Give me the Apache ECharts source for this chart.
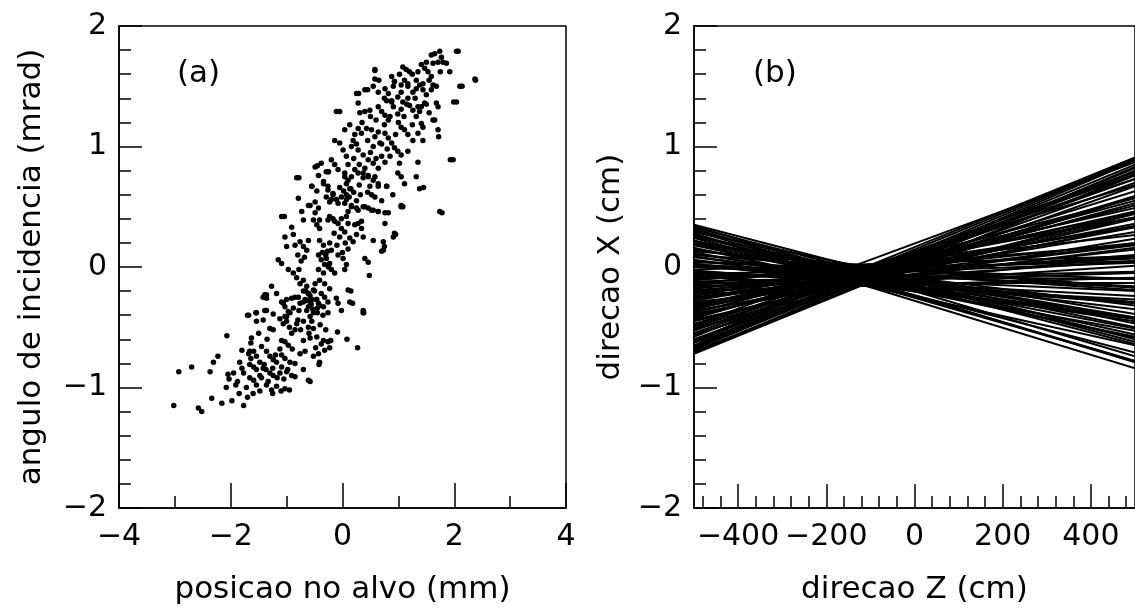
<!DOCTYPE html>
<html><head><meta charset="utf-8">
<script src="https://cdn.jsdelivr.net/npm/echarts@6/dist/echarts.min.js"></script>
<style>html,body{margin:0;padding:0;background:#fff}#c{width:1135px;height:612px}</style>
</head><body><div id="c"></div>
<script>
// ---- Panel (a): scatter, posicao no alvo (mm) vs angulo de incidencia (mrad)
const scatterX = [
-3.02,-2.93,-2.70,-2.58,-2.52,-2.37,-2.31,-2.23,-2.07,-2.34,-2.16,-1.98,-1.77,-1.70,-2.08,-2.03,-1.91,-2.05,-1.84,-1.80,
-1.66,-1.59,-1.64,-1.63,-1.70,-1.55,-1.54,-1.42,-1.36,-1.24,-1.42,-1.36,-1.80,-1.77,-1.66,-1.59,-1.54,-1.48,-1.36,-1.27,
-1.18,-1.03,-0.95,-1.42,-1.37,-1.30,-1.24,-1.17,-1.54,-1.48,-1.40,-1.36,-1.30,-1.24,-1.18,-1.09,-1.00,-0.91,-0.85,-0.70,
-0.61,-1.09,-1.03,-0.94,-0.76,-0.67,-0.52,-0.43,-0.41,-0.42,-0.32,-0.23,-1.30,-1.24,-1.09,-1.03,-0.97,-0.91,-0.85,-0.82,
-1.06,-1.00,-0.94,-0.88,-0.70,-0.58,-0.46,-0.34,-0.26,-0.70,-0.61,-0.52,-0.76,-0.67,-0.64,-0.58,-0.46,-0.41,-0.32,-0.26,
-1.06,-1.00,-0.91,-0.70,-0.61,-0.52,-1.68,-1.64,-1.66,-1.59,-1.54,-1.48,
-0.82,-0.55,-0.43,-0.26,-0.34,-0.26,-0.17,-0.20,-0.08,-0.29,-0.23,0.04,0.07,0.13,0.07,0.04,0.10,0.07,0.28,0.37,
0.46,0.58,0.49,0.52,0.64,0.79,0.99,1.05,-0.79,-0.58,-0.49,-0.43,-0.73,-0.70,-1.09,-0.52,-0.46,-0.41,-0.26,-0.17,
-0.08,-0.02,0.04,0.16,0.28,0.40,0.52,0.64,0.76,0.28,0.34,0.25,0.37,0.55,0.73,0.76,0.93,0.91,0.73,0.70,
-0.91,-0.88,-0.76,-0.70,-0.64,-0.61,-1.03,-1.00,-1.15,-1.09,-0.41,-0.34,-0.23,-0.20,-0.43,-0.38,-0.29,-0.23,-0.08,0.01,
0.07,0.04,0.13,0.19,0.40,0.46,0.10,0.13,0.37,0.37,-0.97,-0.88,-0.82,-0.76,-0.70,-0.64,-0.61,-0.55,-0.49,-0.41,
-0.32,-0.23,-0.43,-0.34,-0.20,-0.14,-1.27,-1.18,-1.39,-1.36,-1.09,-1.03,-0.97,-0.79,-0.70,-0.61,-0.52,-0.43,-0.34,-0.26,
-0.11,-0.08,-0.02,-1.68,-1.54,-1.39,-1.12,-1.03,
0.25,0.40,0.55,0.64,0.76,0.93,1.05,1.17,1.32,1.44,1.62,1.68,1.71,1.99,2.10,-0.11,0.28,0.31,0.40,0.49,
0.64,0.70,0.76,0.82,0.88,0.91,0.99,1.05,1.17,1.20,1.26,1.32,1.35,1.38,1.41,1.44,1.62,1.71,1.72,0.04,
0.13,0.22,0.28,0.34,0.43,0.52,0.58,0.64,0.67,0.76,0.82,0.88,0.93,1.05,1.11,1.17,1.26,1.35,1.44,-0.14,
-0.05,0.01,0.07,0.16,0.19,0.28,0.37,0.46,0.55,0.64,0.70,0.76,0.85,0.99,1.05,1.17,1.02,1.35,1.32,1.93,
-0.49,-0.38,-0.29,-0.20,-0.14,-0.08,0.04,0.10,0.16,0.22,0.37,0.46,0.55,0.64,0.79,1.05,1.11,1.38,-0.55,-0.46,
-0.34,-0.26,-0.17,-0.11,-0.02,0.07,0.16,0.25,0.37,0.46,0.55,0.64,0.82,1.05,1.74,-0.61,-0.49,-0.41,-0.23,-0.14,
-0.02,0.10,0.22,0.34,
2.04,1.59,1.65,1.74,1.77,1.71,1.62,1.86,1.92,2.37,1.41,1.47,1.53,1.59,1.08,1.14,1.20,1.02,1.11,1.17,
1.26,1.32,1.38,1.44,1.50,1.59,1.41,1.47,1.65,0.88,0.93,0.91,0.58,0.58,0.82,0.79,0.88,0.99,1.08,
0.08,0.27,0.38,-0.09,-0.58,-0.21,-0.38,-0.48,0.15,0.18,0.48,0.95,0.75,1.08,1.45,1.78,1.98,2.04,2.14,2.38,
2.07,-0.78,-1.04,-0.45,-0.25,-0.05,0.29,0.45,0.58,
-0.66,-0.58,-0.50,-0.56,-0.47,-0.62,-0.53,-0.45,-0.36,-0.30,-0.25,-0.32,-0.27,-0.15,-0.05,0.05,0.10,-0.10,0.00,-0.05,
0.02,0.12,0.20,0.25,0.32,-0.85,-0.80,-0.74,-0.68,-0.78,-1.00,-0.95,-0.80,-0.75,-0.60,-0.55,-0.40,-0.35,-0.30,-0.45,
-0.85,-0.78,-0.38,-1.45,-1.33,-1.25,-1.12,-1.05,-0.98,-1.20,-1.12,-1.45,-1.35,-1.50,-0.90,-0.85,
0.10,0.20,0.30,0.40,0.50,0.60,0.45,0.55,0.70,0.80,0.95,1.00,1.10,1.15,0.85,0.75,0.60,0.50,0.35,0.25,
0.15,0.30,0.45,0.58,0.70,0.90,1.25,1.30,1.50,1.55,
1.05,1.25,1.35,1.50,1.55,1.68,1.75,1.80,0.75,0.65,
-1.95,-1.88,-1.72,-1.60,-1.85,-1.25,-1.10
];
const scatterY = [
-1.15,-0.87,-0.83,-1.17,-1.20,-0.87,-0.79,-0.74,-0.57,-1.09,-1.13,-1.11,-1.15,-1.08,-1.00,-0.93,-0.98,-0.89,-0.79,-0.69,
-0.70,-0.70,-0.63,-0.59,-0.40,-0.38,-0.45,-0.44,-0.36,-0.39,-0.25,-0.23,-0.84,-0.88,-0.92,-0.94,-0.98,-1.03,-0.98,-1.02,
-0.99,-1.01,-1.02,-0.84,-0.85,-0.88,-0.90,-0.92,-0.74,-0.79,-0.81,-0.70,-0.74,-0.77,-0.79,-0.83,-0.87,-0.90,-0.91,-0.85,
-0.94,-0.73,-0.76,-0.79,-0.72,-0.70,-0.74,-0.72,-0.79,-0.81,-0.69,-0.67,-0.51,-0.52,-0.61,-0.62,-0.65,-0.55,-0.52,-0.47,
-0.47,-0.41,-0.38,-0.34,-0.61,-0.59,-0.58,-0.61,-0.62,-0.45,-0.50,-0.51,-0.30,-0.27,-0.36,-0.41,-0.27,-0.32,-0.25,-0.29,
-0.30,-0.27,-0.26,-0.20,-0.22,-0.19,-0.72,-0.76,-0.81,-0.83,-0.85,-0.90,
0.74,0.67,0.76,0.79,0.71,0.67,0.61,0.56,0.53,0.58,0.54,0.75,0.69,0.65,0.60,0.53,0.46,0.42,0.78,0.74,
0.76,0.75,0.67,0.60,0.69,0.67,0.78,0.51,0.57,0.51,0.54,0.49,0.46,0.39,0.42,0.39,0.35,0.32,0.39,0.40,
0.36,0.32,0.29,0.50,0.47,0.50,0.47,0.46,0.45,0.36,0.32,0.27,0.25,0.22,0.21,0.36,0.28,0.25,0.14,0.13,
0.33,0.27,0.21,0.17,0.14,0.22,0.25,0.17,0.06,0.03,0.22,0.18,0.20,0.14,0.10,0.06,0.07,0.03,0.10,0.07,
0.02,-0.02,0.24,0.21,0.07,0.04,-0.19,-0.29,-0.36,-0.38,-0.02,-0.05,-0.09,-0.14,-0.11,-0.16,-0.22,-0.27,-0.14,-0.11,
-0.14,-0.18,-0.02,-0.05,-0.02,-0.05,-0.16,-0.22,-0.23,-0.26,-0.29,-0.33,-0.37,-0.25,-0.29,-0.33,-0.38,-0.30,-0.33,-0.38,
-0.26,-0.30,-0.36,-0.40,-0.38,-0.36,-0.43,-0.41,
1.44,1.47,1.50,1.45,1.48,1.54,1.51,1.52,1.48,1.52,1.51,1.36,1.33,1.37,1.50,1.29,1.36,1.28,1.29,1.30,
1.33,1.29,1.26,1.22,1.38,1.33,1.27,1.31,1.40,1.34,1.30,1.25,1.33,1.29,1.19,1.16,1.22,1.14,1.08,1.14,
1.18,1.10,1.15,1.11,1.15,1.14,1.08,1.12,1.03,1.11,1.07,1.03,0.99,1.16,1.14,1.10,1.05,1.11,1.05,1.05,
1.03,0.97,0.92,1.00,1.05,0.97,0.93,0.89,0.86,0.82,0.92,0.87,0.92,0.96,0.93,0.96,0.86,0.87,0.75,0.89,
0.83,0.86,0.79,0.89,0.85,0.81,0.78,0.72,0.75,0.81,0.78,0.75,0.72,0.67,0.67,0.75,0.69,0.65,0.67,0.63,
0.69,0.64,0.60,0.56,0.58,0.56,0.51,0.49,0.50,0.49,0.47,0.46,0.45,0.50,0.46,0.51,0.45,0.39,0.42,0.38,
0.40,0.36,0.35,0.38,
1.79,1.76,1.77,1.79,1.74,1.70,1.69,1.69,1.62,1.56,1.68,1.65,1.62,1.58,1.66,1.64,1.62,1.60,1.55,1.50,
1.45,1.55,1.51,1.47,1.43,1.47,1.33,1.36,1.22,1.58,1.54,1.50,1.64,1.56,1.44,1.38,1.37,1.41,1.37,
-0.60,-0.67,-0.38,-0.54,-0.95,-0.61,-0.64,-0.67,-0.20,-0.30,-0.07,0.27,0.17,0.50,0.66,0.45,0.89,1.37,1.50,1.55,
1.79,0.74,0.42,0.84,0.79,1.29,1.44,1.47,1.63,
-0.20,-0.24,-0.20,-0.31,-0.27,-0.28,-0.35,-0.34,0.12,0.10,0.00,0.02,0.13,0.28,0.25,0.20,0.15,0.18,0.12,0.66,
0.63,0.58,0.62,0.55,0.60,0.18,0.10,0.05,0.08,-0.02,-0.45,-0.50,-0.44,-0.52,-0.55,-0.45,-0.48,-0.40,-0.52,-0.38,
-0.25,-0.36,-0.22,-0.92,-0.95,-0.84,-0.88,-0.93,-0.85,-0.73,-0.68,-0.66,-0.60,-0.55,-0.68,-0.80,
0.85,0.90,0.85,0.82,0.95,0.90,1.05,1.00,1.02,0.98,1.10,1.20,1.25,1.35,1.25,1.18,1.22,1.25,1.20,1.02,
0.65,0.68,0.62,0.58,0.55,0.60,1.18,1.40,1.35,1.28,
1.45,1.60,1.62,1.70,1.55,1.50,1.62,1.70,1.40,1.55,
-0.88,-0.95,-1.00,-1.05,-1.05,-1.05,-1.03
];

// ---- Panel (b): trajectories, x (cm) at z = -500 cm and at z = +500 cm
const trajLeft = [
0.35,0.33,0.30,0.28,0.27,0.25,0.22,0.20,0.18,0.15,0.12,0.10,0.08,0.05,0.03,0.00,-0.02,-0.04,-0.06,-0.08,
-0.10,-0.12,-0.14,-0.16,-0.18,-0.20,-0.22,-0.24,-0.26,-0.28,-0.30,-0.32,-0.34,-0.36,-0.38,-0.40,-0.42,-0.45,-0.48,-0.50,
-0.53,-0.56,-0.58,-0.62,-0.65,-0.68,-0.70,-0.72,
0.34,0.31,0.29,0.24,0.21,0.16,0.13,0.11,0.06,0.04,0.01,-0.03,-0.07,-0.11,-0.15,-0.19,-0.23,-0.27,-0.31,-0.35,
-0.39,-0.43,-0.47,-0.51,-0.55,-0.60,-0.63,-0.66,-0.69,-0.71,
0.32,0.26,0.19,0.14,0.09,0.02,-0.05,-0.09,-0.13,-0.17,-0.21,-0.25,-0.29,-0.33,-0.37,-0.41,-0.44,-0.49,-0.52,-0.57,
-0.61,-0.67
];
const trajRight = [
-0.60,-0.62,-0.78,-0.84,-0.78,-0.56,-0.59,-0.42,-0.58,-0.42,-0.53,-0.17,-0.35,-0.19,-0.43,-0.16,0.09,-0.20,0.05,-0.27,
0.035,-0.04,0.265,-0.05,0.20,-0.09,0.185,0.41,0.146,0.34,0.16,0.49,0.36,0.235,0.57,0.41,0.55,0.44,0.87,0.63,
0.79,0.58,0.91,0.79,0.89,0.80,0.76,0.77,
-0.74,-0.64,-0.47,-0.71,-0.39,-0.65,-0.17,-0.43,-0.43,-0.10,-0.29,-0.30,-0.10,0.187,0.09,0.05,0.01,0.41,0.29,0.46,
0.34,0.68,0.53,0.46,0.77,0.70,0.67,0.85,0.88,0.83,
-0.79,-0.50,-0.51,-0.32,-0.45,-0.17,-0.24,0.07,-0.13,0.10,0.33,0.18,0.09,0.45,0.33,0.51,0.40,0.73,0.59,0.73,
0.90,0.82
];
const zStart = -500, zEnd = 500;

// tick values
const bMajorTicks = [-400, -200, 0, 200, 400];
const bMinorTicks = [-480,-440,-360,-320,-280,-240,-160,-120,-80,-40,40,80,120,160,240,280,320,360,440,480];

const FONT = 'DejaVu Sans';
const minus = v => String(v).replace('-', '\u2212');

const scatterData = scatterX.map((x, i) => [x, scatterY[i]]);
const lineData = trajLeft.map((l, i) => ({ coords: [[zStart, l], [zEnd, trajRight[i]]] }));

const axisLbl = { color: '#000', fontFamily: FONT, fontSize: 30, formatter: minus };
const nameTs = { color: '#000', fontFamily: FONT, fontSize: 31 };
const axLine = { show: true, onZero: false, lineStyle: { color: '#000', width: 1.5 } };
const tickStyle = { color: '#000', width: 1.5 };

const chart = echarts.init(document.getElementById('c'), null, { renderer: 'canvas' });
chart.setOption({
  animation: false,
  backgroundColor: '#fff',
  grid: [
    { left: 119, top: 26, width: 447, height: 482, show: true, borderColor: '#000', borderWidth: 1.5, backgroundColor: 'transparent' },
    { left: 694, top: 26, width: 445, height: 482, show: true, borderColor: '#000', borderWidth: 1.5, backgroundColor: 'transparent' }
  ],
  xAxis: [
    { gridIndex: 0, type: 'value', min: -4, max: 4, interval: 2,
      name: 'posicao no alvo (mm)', nameLocation: 'middle', nameGap: 66, nameTextStyle: nameTs,
      axisLine: axLine, axisTick: { inside: true, length: 25, lineStyle: tickStyle },
      minorTick: { show: true, splitNumber: 2, length: 12, lineStyle: tickStyle },
      axisLabel: Object.assign({ margin: 14 }, axisLbl), splitLine: { show: false } },
    { gridIndex: 1, type: 'value', min: zStart, max: zEnd,
      name: 'direcao Z (cm)', nameLocation: 'middle', nameGap: 66, nameTextStyle: nameTs,
      axisLine: axLine,
      axisTick: { inside: true, length: 24, customValues: bMajorTicks, lineStyle: tickStyle },
      axisLabel: Object.assign({ margin: 14, customValues: bMajorTicks }, axisLbl), splitLine: { show: false } },
    { gridIndex: 1, type: 'value', min: zStart, max: zEnd, position: 'bottom',
      axisLine: { show: false, onZero: false },
      axisTick: { inside: true, length: 12, customValues: bMinorTicks, lineStyle: tickStyle },
      axisLabel: { show: false }, splitLine: { show: false } }
  ],
  yAxis: [
    { gridIndex: 0, type: 'value', min: -2, max: 2, interval: 1,
      name: 'angulo de incidencia (mrad)', nameLocation: 'middle', nameGap: 72, nameTextStyle: nameTs,
      axisLine: axLine, axisTick: { inside: true, length: 23, lineStyle: tickStyle },
      minorTick: { show: true, splitNumber: 5, length: 12, lineStyle: tickStyle },
      axisLabel: Object.assign({ margin: 12 }, axisLbl), splitLine: { show: false } },
    { gridIndex: 1, type: 'value', min: -2, max: 2, interval: 1,
      name: 'direcao X (cm)', nameLocation: 'middle', nameGap: 68, nameTextStyle: nameTs,
      axisLine: axLine, axisTick: { inside: true, length: 23, lineStyle: tickStyle },
      minorTick: { show: true, splitNumber: 5, length: 12, lineStyle: tickStyle },
      axisLabel: Object.assign({ margin: 12 }, axisLbl), splitLine: { show: false } }
  ],
  graphic: [
    { type: 'text', left: 177, top: 58, style: { text: '(a)', font: '31px "DejaVu Sans"', fill: '#000' } },
    { type: 'text', left: 753, top: 58, style: { text: '(b)', font: '31px "DejaVu Sans"', fill: '#000' } }
  ],
  series: [
    { type: 'scatter', xAxisIndex: 0, yAxisIndex: 0, data: scatterData, symbol: 'circle', symbolSize: 5.5,
      itemStyle: { color: '#000', opacity: 1 }, silent: true },
    { type: 'lines', coordinateSystem: 'cartesian2d', xAxisIndex: 1, yAxisIndex: 1, data: lineData,
      lineStyle: { color: '#000', width: 2, opacity: 1, curveness: 0 }, silent: true }
  ]
});
</script></body></html>
